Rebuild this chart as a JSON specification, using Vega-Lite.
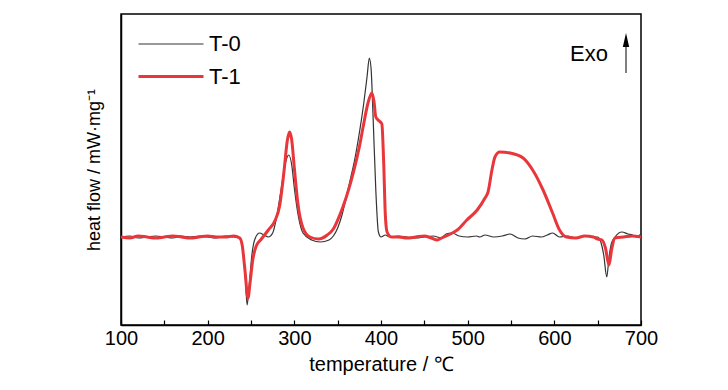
{
  "$schema": "https://vega.github.io/schema/vega-lite/v6.json",
  "width": 520,
  "height": 311,
  "autosize": {"type": "none"},
  "padding": {"left": 121, "top": 14, "right": 87, "bottom": 65},
  "background": "white",
  "config": {
    "view": {"stroke": "#000", "strokeWidth": 1.5},
    "font": "Liberation Sans"
  },
  "layer": [
    {
      "data": {"values": [
        {"s":"T-0","t":100,"p":237},{"s":"T-0","t":110,"p":236},{"s":"T-0","t":120,"p":238},{"s":"T-0","t":130,"p":237},{"s":"T-0","t":140,"p":236},{"s":"T-0","t":150,"p":237},{"s":"T-0","t":160,"p":238},{"s":"T-0","t":170,"p":236},{"s":"T-0","t":180,"p":237},{"s":"T-0","t":190,"p":236},{"s":"T-0","t":200,"p":237},{"s":"T-0","t":210,"p":238},{"s":"T-0","t":220,"p":236},{"s":"T-0","t":230,"p":237},{"s":"T-0","t":236,"p":238},{"s":"T-0","t":240,"p":246},{"s":"T-0","t":243,"p":270},{"s":"T-0","t":245.5,"p":305},{"s":"T-0","t":248,"p":285},{"s":"T-0","t":251,"p":255},{"s":"T-0","t":255,"p":238},{"s":"T-0","t":260,"p":233},{"s":"T-0","t":265,"p":235},{"s":"T-0","t":270,"p":237},{"s":"T-0","t":275,"p":233},{"s":"T-0","t":280,"p":215},{"s":"T-0","t":285,"p":188},{"s":"T-0","t":290,"p":162},{"s":"T-0","t":293.5,"p":155},{"s":"T-0","t":297,"p":165},{"s":"T-0","t":300,"p":188},{"s":"T-0","t":305,"p":218},{"s":"T-0","t":310,"p":233},{"s":"T-0","t":320,"p":240},{"s":"T-0","t":330,"p":242},{"s":"T-0","t":340,"p":240},{"s":"T-0","t":345,"p":236},{"s":"T-0","t":350,"p":228},{"s":"T-0","t":355,"p":215},{"s":"T-0","t":360,"p":197},{"s":"T-0","t":365,"p":178},{"s":"T-0","t":370,"p":158},{"s":"T-0","t":375,"p":133},{"s":"T-0","t":380,"p":104},{"s":"T-0","t":384,"p":76},{"s":"T-0","t":386.5,"p":58},{"s":"T-0","t":388.5,"p":68},{"s":"T-0","t":391,"p":120},{"s":"T-0","t":394,"p":190},{"s":"T-0","t":397,"p":232},{"s":"T-0","t":400,"p":237},{"s":"T-0","t":405,"p":235},{"s":"T-0","t":410,"p":237},{"s":"T-0","t":420,"p":236},{"s":"T-0","t":430,"p":237},{"s":"T-0","t":440,"p":238},{"s":"T-0","t":450,"p":237},{"s":"T-0","t":460,"p":236},{"s":"T-0","t":470,"p":238},{"s":"T-0","t":475,"p":234},{"s":"T-0","t":482,"p":233},{"s":"T-0","t":490,"p":236},{"s":"T-0","t":500,"p":237},{"s":"T-0","t":510,"p":236},{"s":"T-0","t":514,"p":237},{"s":"T-0","t":520,"p":235},{"s":"T-0","t":530,"p":237},{"s":"T-0","t":540,"p":236},{"s":"T-0","t":549,"p":234},{"s":"T-0","t":558,"p":238},{"s":"T-0","t":566,"p":239},{"s":"T-0","t":575,"p":236},{"s":"T-0","t":585,"p":237},{"s":"T-0","t":592,"p":235},{"s":"T-0","t":598,"p":233},{"s":"T-0","t":606,"p":237},{"s":"T-0","t":615,"p":236},{"s":"T-0","t":625,"p":238},{"s":"T-0","t":635,"p":236},{"s":"T-0","t":645,"p":237},{"s":"T-0","t":650,"p":237},{"s":"T-0","t":654,"p":243},{"s":"T-0","t":657,"p":255},{"s":"T-0","t":660.5,"p":277},{"s":"T-0","t":663,"p":258},{"s":"T-0","t":666,"p":243},{"s":"T-0","t":670,"p":237},{"s":"T-0","t":678,"p":232},{"s":"T-0","t":685,"p":234},{"s":"T-0","t":690,"p":235},{"s":"T-0","t":695,"p":237},{"s":"T-0","t":700,"p":234},
        {"s":"T-1","t":100,"p":237},{"s":"T-1","t":110,"p":238},{"s":"T-1","t":120,"p":236},{"s":"T-1","t":130,"p":237},{"s":"T-1","t":140,"p":238},{"s":"T-1","t":150,"p":237},{"s":"T-1","t":160,"p":236},{"s":"T-1","t":170,"p":237},{"s":"T-1","t":180,"p":238},{"s":"T-1","t":190,"p":237},{"s":"T-1","t":200,"p":236},{"s":"T-1","t":210,"p":237},{"s":"T-1","t":220,"p":237},{"s":"T-1","t":230,"p":236},{"s":"T-1","t":237,"p":238},{"s":"T-1","t":240,"p":246},{"s":"T-1","t":243,"p":270},{"s":"T-1","t":246.5,"p":298},{"s":"T-1","t":249,"p":282},{"s":"T-1","t":252,"p":260},{"s":"T-1","t":256,"p":246},{"s":"T-1","t":262,"p":239},{"s":"T-1","t":270,"p":230},{"s":"T-1","t":278,"p":220},{"s":"T-1","t":283,"p":206},{"s":"T-1","t":288,"p":172},{"s":"T-1","t":292,"p":140},{"s":"T-1","t":294.5,"p":132},{"s":"T-1","t":297,"p":140},{"s":"T-1","t":300,"p":168},{"s":"T-1","t":304,"p":203},{"s":"T-1","t":310,"p":228},{"s":"T-1","t":318,"p":237},{"s":"T-1","t":328,"p":239},{"s":"T-1","t":338,"p":235},{"s":"T-1","t":345,"p":229},{"s":"T-1","t":352,"p":216},{"s":"T-1","t":360,"p":197},{"s":"T-1","t":368,"p":173},{"s":"T-1","t":375,"p":147},{"s":"T-1","t":380,"p":124},{"s":"T-1","t":385,"p":103},{"s":"T-1","t":389.5,"p":93},{"s":"T-1","t":392,"p":102},{"s":"T-1","t":394,"p":117},{"s":"T-1","t":398,"p":121},{"s":"T-1","t":401,"p":124},{"s":"T-1","t":403,"p":160},{"s":"T-1","t":405,"p":215},{"s":"T-1","t":407,"p":232},{"s":"T-1","t":412,"p":237},{"s":"T-1","t":420,"p":237},{"s":"T-1","t":430,"p":238},{"s":"T-1","t":440,"p":237},{"s":"T-1","t":450,"p":236},{"s":"T-1","t":458,"p":238},{"s":"T-1","t":465,"p":240},{"s":"T-1","t":470,"p":238},{"s":"T-1","t":480,"p":234},{"s":"T-1","t":488,"p":230},{"s":"T-1","t":499,"p":220},{"s":"T-1","t":511,"p":210},{"s":"T-1","t":520,"p":198},{"s":"T-1","t":523.5,"p":192},{"s":"T-1","t":528,"p":170},{"s":"T-1","t":531.5,"p":157},{"s":"T-1","t":537,"p":152},{"s":"T-1","t":549,"p":153},{"s":"T-1","t":564,"p":158},{"s":"T-1","t":575,"p":170},{"s":"T-1","t":587,"p":190},{"s":"T-1","t":598,"p":213},{"s":"T-1","t":606,"p":230},{"s":"T-1","t":614,"p":237},{"s":"T-1","t":625,"p":238},{"s":"T-1","t":635,"p":236},{"s":"T-1","t":645,"p":237},{"s":"T-1","t":650,"p":239},{"s":"T-1","t":655,"p":240},{"s":"T-1","t":659,"p":248},{"s":"T-1","t":663,"p":265},{"s":"T-1","t":666,"p":250},{"s":"T-1","t":670,"p":238},{"s":"T-1","t":680,"p":237},{"s":"T-1","t":690,"p":236},{"s":"T-1","t":700,"p":237}
      ]},
      "mark": {"type": "line", "interpolate": "monotone", "clip": true},
      "encoding": {
        "x": {
          "field": "t", "type": "quantitative",
          "scale": {"domain": [100, 700], "nice": false, "zero": false},
          "axis": {
            "values": [100,150,200,250,300,350,400,450,500,550,600,650,700],
            "labelExpr": "datum.value % 100 === 0 ? datum.label : ''",
            "grid": false, "tickSize": -5, "tickColor": "#000", "tickWidth": 1.2, "domainColor": "#000", "domainWidth": 1.5,
            "labelFontSize": 20, "labelColor": "#000", "labelPadding": 8, "labelFlush": false,
            "title": "temperature / ℃", "titleFontSize": 20, "titleFontWeight": "normal", "titleColor": "#000", "titlePadding": 6
          }
        },
        "y": {
          "field": "p", "type": "quantitative",
          "scale": {"domain": [325, 14], "nice": false, "zero": false},
          "axis": {
            "labels": false, "ticks": false, "grid": false, "domainColor": "#000", "domainWidth": 1.5,
            "title": "heat flow / mW·mg⁻¹", "titleFontSize": 18, "titleFontWeight": "normal", "titleColor": "#000", "titlePadding": 18
          }
        },
        "color": {
          "field": "s", "type": "nominal",
          "scale": {"domain": ["T-0", "T-1"], "range": ["#333333", "#e8363b"]},
          "legend": {
            "title": null, "orient": "none", "legendX": 55, "legendY": 16, "direction": "vertical",
            "symbolType": "M-4,0H1", "symbolSize": 676, "labelFontSize": 22, "labelColor": "#000",
            "labelOffset": 4, "rowPadding": 7, "padding": 0
          }
        },
        "strokeWidth": {
          "field": "s", "type": "nominal",
          "scale": {"domain": ["T-0", "T-1"], "range": [1.2, 3]},
          "legend": {
            "title": null, "orient": "none", "legendX": 55, "legendY": 16, "direction": "vertical",
            "symbolType": "M-4,0H1", "symbolSize": 676, "labelFontSize": 22, "labelColor": "#000",
            "labelOffset": 4, "rowPadding": 7, "padding": 0
          }
        }
      }
    },
    {
      "data": {"values": [{"t": 682.7, "p1": 73, "p2": 40}]},
      "mark": {"type": "rule", "color": "#000", "strokeWidth": 1},
      "encoding": {
        "x": {"field": "t", "type": "quantitative"},
        "y": {"field": "p1", "type": "quantitative"},
        "y2": {"field": "p2"}
      }
    },
    {
      "data": {"values": [{"t": 682.7, "p": 40}]},
      "mark": {"type": "point", "shape": "M0,-1L0.45,1L-0.45,1Z", "filled": true, "color": "#000", "opacity": 1, "size": 200},
      "encoding": {
        "x": {"field": "t", "type": "quantitative"},
        "y": {"field": "p", "type": "quantitative"}
      }
    },
    {
      "data": {"values": [{"t": 640, "p": 54, "label": "Exo"}]},
      "mark": {"type": "text", "fontSize": 22, "color": "#000", "align": "center", "baseline": "middle"},
      "encoding": {
        "x": {"field": "t", "type": "quantitative"},
        "y": {"field": "p", "type": "quantitative"},
        "text": {"field": "label"}
      }
    }
  ]
}
